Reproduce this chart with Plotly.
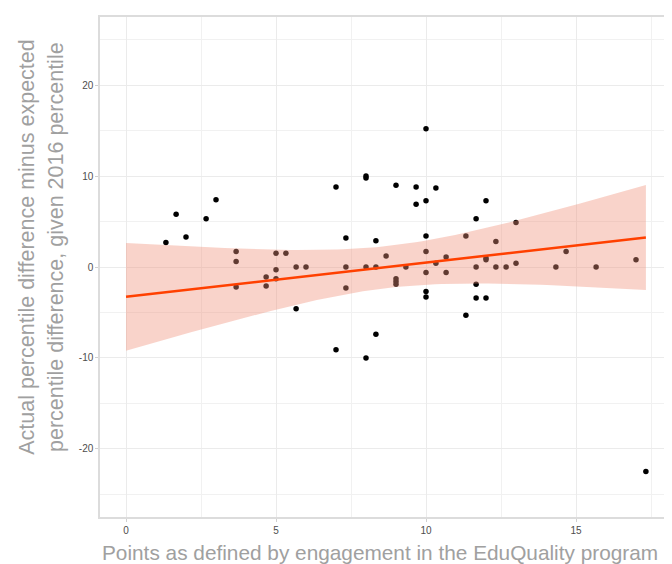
import numpy as np
import plotly.graph_objects as go

# Engagement points (x) and actual-minus-expected percentile difference (y).
# The first point lies outside the visible y window (clipped like coord_cartesian) but is part of the fit.
x_points = [0.0,
            1.33, 1.67, 2.0, 2.67, 3.0, 3.67, 3.67, 3.67, 4.67, 4.67,
            5.0, 5.0, 5.0, 5.33, 5.67, 5.67, 6.0, 7.0, 7.0, 7.33,
            7.33, 7.33, 8.0, 8.0, 8.0, 8.0, 8.33, 8.33, 8.33, 8.67,
            9.0, 9.0, 9.0, 9.0, 9.33, 9.67, 9.67, 10.0, 10.0, 10.0,
            10.0, 10.0, 10.0, 10.0, 10.33, 10.33, 10.67, 10.67, 11.33, 11.33,
            11.67, 11.67, 11.67, 11.67, 12.0, 12.0, 12.0, 12.0, 12.33, 12.33,
            12.67, 13.0, 13.0, 14.33, 14.67, 15.67, 17.0, 17.33]
y_points = [-65.6,
            2.7, 5.8, 3.3, 5.3, 7.4, 1.7, 0.6, -2.2, -1.1, -2.1,
            1.5, -0.3, -1.3, 1.5, 0.0, -4.6, 0.0, 8.8, -9.1, 3.2,
            0.0, -2.3, 10.0, 9.8, 0.0, -10.0, 2.9, 0.0, -7.4, 1.2,
            9.0, -1.3, -1.6, -1.9, 0.0, 8.8, 6.9, 15.2, 7.3, 3.4,
            1.7, -0.6, -2.7, -3.3, 8.7, 0.4, 1.1, -0.6, 3.4, -5.3,
            5.3, 0.0, -1.9, -3.4, 7.3, 1.0, 0.8, -3.4, 2.8, 0.0,
            0.0, 4.9, 0.4, 0.0, 1.7, 0.0, 0.8, -22.5]

x_ticks = [0, 5, 10, 15]
y_ticks = [-20, -10, 0, 10, 20]

x_title = "Points as defined by engagement in the EduQuality program"
y_title_1 = "Actual percentile difference minus expected"
y_title_2 = "percentile difference, given 2016 percentile"

# Linear model fit with 95% confidence band (as geom_smooth(method='lm'))
xa = np.array(x_points)
ya = np.array(y_points)
n = len(xa)
mx = xa.mean()
sxx = ((xa - mx) ** 2).sum()
slope = ((xa - mx) * (ya - ya.mean())).sum() / sxx
intercept = ya.mean() - slope * mx
resid = ya - (intercept + slope * xa)
sigma = np.sqrt((resid ** 2).sum() / (n - 2))
t_crit = 1.996
grid = np.linspace(xa.min(), xa.max(), 80)
fit = intercept + slope * grid
se = sigma * np.sqrt(1.0 / n + (grid - mx) ** 2 / sxx)
upper = fit + t_crit * se
lower = fit - t_crit * se

fig = go.Figure()
fig.add_trace(go.Scatter(x=x_points, y=y_points, mode="markers",
                         marker=dict(color="black", size=5.5),
                         showlegend=False, hoverinfo="skip"))
fig.add_trace(go.Scatter(x=np.concatenate([grid, grid[::-1]]),
                         y=np.concatenate([upper, lower[::-1]]),
                         fill="toself", fillcolor="rgba(240,145,122,0.4)",
                         line=dict(width=0), mode="lines",
                         showlegend=False, hoverinfo="skip"))
fig.add_trace(go.Scatter(x=grid, y=fit, mode="lines",
                         line=dict(color="#FF4000", width=2.6),
                         showlegend=False, hoverinfo="skip"))

tick_font = dict(family="Liberation Sans Narrow, Arial Narrow, Liberation Sans, Arial", size=10, color="#4D4D4D")
title_font = dict(family="Liberation Sans, Arial, Helvetica, sans-serif", size=21.5, color="#A0A0A0")
xtitle_font = dict(family="Liberation Sans, Arial, Helvetica, sans-serif", size=20.8, color="#A0A0A0")

# The page body has an 8px default margin, so the figure is sized to fill the window from there.
fig.update_layout(
    width=664, height=556,
    margin=dict(l=92, r=0, t=9, b=47),
    paper_bgcolor="white", plot_bgcolor="white",
    showlegend=False,
    xaxis=dict(range=[-0.867, 18.2], tickvals=x_ticks, ticktext=[str(v) for v in x_ticks],
               showgrid=True, gridcolor="#EBEBEB", gridwidth=1.1,
               minor=dict(dtick=2.5, tick0=0, showgrid=True, gridcolor="#F1F1F1", gridwidth=0.7),
               zeroline=False, showline=True, mirror=True, linecolor="#DCDCDC", linewidth=1.5,
               ticks="outside", ticklen=3, tickcolor="#D0D0D0", tickfont=tick_font),
    yaxis=dict(range=[-27.5, 27.5], tickvals=y_ticks, ticktext=[str(v) for v in y_ticks],
               showgrid=True, gridcolor="#EBEBEB", gridwidth=1.1,
               minor=dict(dtick=5, tick0=-25, showgrid=True, gridcolor="#F1F1F1", gridwidth=0.7),
               zeroline=False, showline=True, linecolor="#DCDCDC", linewidth=1.5,
               ticks="outside", ticklen=3, tickcolor="#D0D0D0", tickfont=tick_font),
    annotations=[
        dict(text=x_title, xref="paper", yref="paper", x=0.49, y=-0.07,
             xanchor="center", yanchor="middle", showarrow=False, font=xtitle_font),
        dict(text=y_title_1, xref="paper", yref="paper", x=-0.128, y=0.54,
             xanchor="center", yanchor="middle", textangle=-90, showarrow=False, font=title_font),
        dict(text=y_title_2, xref="paper", yref="paper", x=-0.077, y=0.54,
             xanchor="center", yanchor="middle", textangle=-90, showarrow=False, font=title_font),
    ],
)

fig.write_html("out.html")
